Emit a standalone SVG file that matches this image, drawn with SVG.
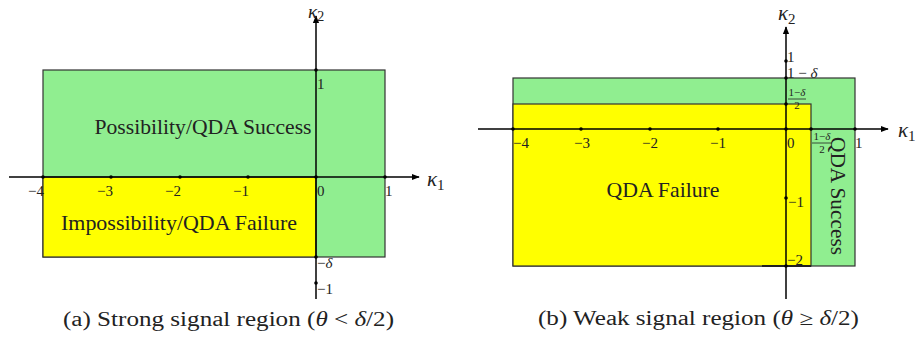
<svg xmlns="http://www.w3.org/2000/svg" width="917" height="337" viewBox="0 0 917 337">
<style>
.g{fill:#90EE90;stroke:#333;stroke-width:1.2}
.y{fill:#FFFF00;stroke:#333;stroke-width:1.2}
.ax{stroke:#000;stroke-width:1.5;fill:none}
.dot{fill:#000}
</style>
<defs>
<marker id="ar" viewBox="0 0 10 10" refX="9" refY="5" markerWidth="8" markerHeight="8" markerUnits="userSpaceOnUse" orient="auto">
<path d="M0,1 L10,5 L0,9 z" fill="#000"/>
</marker>
</defs>
<g id="panel-a">
<g id="regions-a">
<rect class="g" x="43" y="70" width="342" height="187"/>
<rect class="y" x="43" y="177" width="273" height="80"/>
</g>
<g id="connectors-a">
<line class="ax" x1="9" y1="177" x2="419" y2="177" marker-end="url(#ar)"/>
<line class="ax" x1="316" y1="299" x2="316" y2="16" marker-end="url(#ar)"/>
</g>
<g id="dots-a">
<circle class="dot" cx="43" cy="177" r="1.8"/>
<circle class="dot" cx="111" cy="177" r="1.8"/>
<circle class="dot" cx="180" cy="177" r="1.8"/>
<circle class="dot" cx="248" cy="177" r="1.8"/>
<circle class="dot" cx="316" cy="177" r="1.8"/>
<circle class="dot" cx="385" cy="177" r="1.8"/>
<circle class="dot" cx="316" cy="70" r="1.8"/>
<circle class="dot" cx="316" cy="257" r="1.8"/>
<circle class="dot" cx="316" cy="283" r="1.8"/>
</g>
<g id="labels-a" font-family="Liberation Serif, serif" fill="#222">
<g font-size="15">
<text x="28" y="196">−4</text>
<text x="97" y="196">−3</text>
<text x="165" y="196">−2</text>
<text x="233" y="196">−1</text>
<text x="317" y="196">0</text>
<text x="385" y="196">1</text>
<text x="317" y="89">1</text>
<text x="317" y="268">−<tspan font-style="italic">δ</tspan></text>
<text x="317" y="294">−1</text>
</g>
<text x="427" y="186" font-size="21" font-style="italic">κ<tspan font-size="15" font-style="normal" dy="4">1</tspan></text>
<text x="308" y="18" font-size="19" font-style="italic">κ<tspan font-size="14" font-style="normal" dy="3">2</tspan></text>
<text x="203" y="134" font-size="21" text-anchor="middle" textLength="217" lengthAdjust="spacingAndGlyphs">Possibility/QDA Success</text>
<text x="179" y="230" font-size="21" text-anchor="middle" textLength="236" lengthAdjust="spacingAndGlyphs">Impossibility/QDA Failure</text>
</g>
<text id="caption-a" x="228.5" y="326" font-family="Liberation Serif, serif" font-size="20" fill="#222" text-anchor="middle" textLength="331" lengthAdjust="spacingAndGlyphs">(a) Strong signal region (<tspan font-style="italic">θ</tspan> &lt; <tspan font-style="italic">δ</tspan>/2)</text>
</g>
<g id="panel-b">
<g id="regions-b">
<rect class="g" x="513" y="78" width="342" height="188"/>
<rect class="y" x="513" y="104" width="298" height="162"/>
<line x1="762" y1="266" x2="811" y2="266" stroke="#222" stroke-width="2"/>
</g>
<g id="connectors-b">
<line class="ax" x1="478" y1="129" x2="888" y2="129" marker-end="url(#ar)"/>
<line class="ax" x1="786" y1="299" x2="786" y2="27" marker-end="url(#ar)"/>
</g>
<g id="dots-b">
<circle class="dot" cx="513" cy="129" r="1.8"/>
<circle class="dot" cx="581" cy="129" r="1.8"/>
<circle class="dot" cx="650" cy="129" r="1.8"/>
<circle class="dot" cx="718" cy="129" r="1.8"/>
<circle class="dot" cx="786" cy="129" r="1.8"/>
<circle class="dot" cx="811" cy="129" r="1.8"/>
<circle class="dot" cx="855" cy="129" r="1.8"/>
<circle class="dot" cx="786" cy="61" r="1.8"/>
<circle class="dot" cx="786" cy="78" r="1.8"/>
<circle class="dot" cx="786" cy="104" r="1.8"/>
<circle class="dot" cx="786" cy="198" r="1.8"/>
<circle class="dot" cx="786" cy="266" r="1.8"/>
</g>
<g id="labels-b" font-family="Liberation Serif, serif" fill="#222">
<g font-size="15">
<text x="513" y="148">−4</text>
<text x="574" y="148">−3</text>
<text x="642" y="148">−2</text>
<text x="710" y="148">−1</text>
<text x="787" y="148">0</text>
<text x="855" y="148">1</text>
<text x="787" y="62">1</text>
<text x="787" y="78">1 − <tspan font-style="italic">δ</tspan></text>
<text x="788" y="207">−1</text>
<text x="787" y="265">−2</text>
</g>
<g font-size="11" text-anchor="middle">
<text x="822" y="140">1−<tspan font-style="italic">δ</tspan></text>
<text x="822" y="153">2</text>
<text x="797" y="96">1−<tspan font-style="italic">δ</tspan></text>
<text x="797" y="109">2</text>
</g>
<line x1="812" y1="143" x2="832" y2="143" stroke="#222" stroke-width="0.8"/>
<line x1="788" y1="99" x2="806" y2="99" stroke="#222" stroke-width="0.8"/>
<text x="898" y="137" font-size="21" font-style="italic">κ<tspan font-size="15" font-style="normal" dy="4">1</tspan></text>
<text x="778" y="20" font-size="21" font-style="italic">κ<tspan font-size="15" font-style="normal" dy="4">2</tspan></text>
<text x="663" y="197" font-size="21" text-anchor="middle" textLength="113" lengthAdjust="spacingAndGlyphs">QDA Failure</text>
<text transform="translate(831,196) rotate(90)" font-size="21" text-anchor="middle" textLength="118" lengthAdjust="spacingAndGlyphs">QDA Success</text>
</g>
<text id="caption-b" x="698.5" y="325" font-family="Liberation Serif, serif" font-size="20" fill="#222" text-anchor="middle" textLength="321" lengthAdjust="spacingAndGlyphs">(b) Weak signal region (<tspan font-style="italic">θ</tspan> ≥ <tspan font-style="italic">δ</tspan>/2)</text>
</g>
</svg>
